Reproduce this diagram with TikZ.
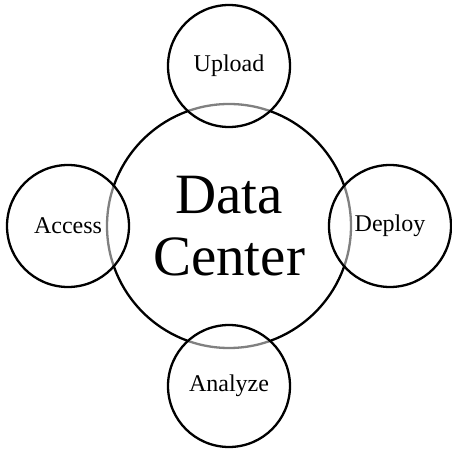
\documentclass[tikz,border=0pt]{standalone}
\usepackage{fontspec}
\setmainfont{Liberation Serif}
\usepackage{tikz}

\begin{document}
\begin{tikzpicture}[x=1pt,y=1pt,
  hub/.style={circle, draw, line width=2.3pt, minimum size=244pt, inner sep=0pt,
    align=center, font=\fontsize{57}{62}\selectfont},
  task/.style={circle, draw, line width=2.3pt, minimum size=122pt, inner sep=0pt,
    fill=white, fill opacity=0.5, text opacity=1, font=\fontsize{24}{28}\selectfont}]
\useasboundingbox (0,0) rectangle (451,452);
\node[hub] (dc) at (229,226) {Data\\Center};
\node[task] (upload) at (229,386) {Upload};
\node[task] (access) at (68,226) {Access};
\node[task] (deploy) at (390,226) {Deploy};
\node[task] (analyze) at (229,66) {Analyze};
\end{tikzpicture}
\end{document}
